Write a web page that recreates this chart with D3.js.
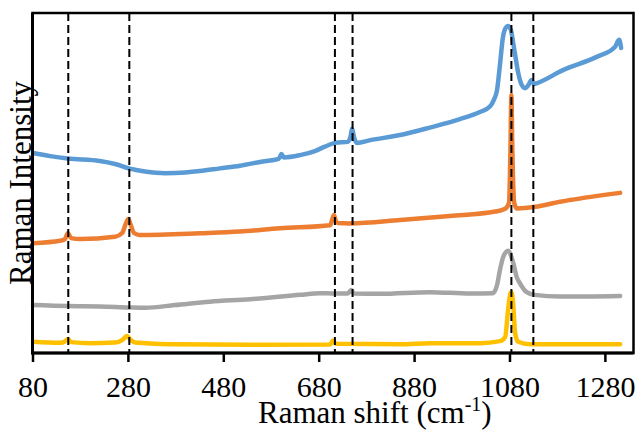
<!DOCTYPE html>
<html><head><meta charset="utf-8">
<script src="https://cdn.jsdelivr.net/npm/d3@7"></script>
<style>html,body{margin:0;padding:0;background:#fff;}svg{display:block;}</style>
</head><body>
<svg id="chart" width="643" height="440"></svg>
<script>
const xTicks = [80, 280, 480, 680, 880, 1080, 1280];
const refLines = [155, 283, 714, 751, 1084, 1130];
const seriesNames = ["S1", "S2", "S3", "S4"];
const seriesColors = ["#5B9BD5", "#ED7D31", "#A5A5A5", "#FFC000"];

const blue = [[81,58.8],[117,57.9],[154,57.2],[221,56.5],[253,55.6],[282,54.3],[316,53.4],[358,52.9],[400,53.1],[431,53.5],[473,54.3],[515,55.1],[557,56.2],[597,57.2],[602,58.5],[607,57.5],[641,58.2],[672,59.4],[693,60.7],[714,61.8],[741,62.1],[747,63.8],[750,66.0],[754,63.5],[760,61.8],[788,62.6],[851,64.1],[913,66.3],[976,68.8],[1018,70.9],[1039,72.5],[1047,74.4],[1054,77.4],[1060,84.7],[1066,92.6],[1072,95.6],[1077,96.2],[1083,95.0],[1088,91.0],[1092,87.6],[1098,82.6],[1104,79.4],[1113,77.9],[1121,79.1],[1126,80.3],[1131,79.1],[1138,79.4],[1192,83.2],[1263,87.1],[1301,90.0],[1310,92.1],[1314,89.7]];
const orange = [[81,32.3],[138,33.0],[148,33.5],[154,35.2],[161,33.8],[180,33.5],[253,34.2],[268,35.3],[276,38.2],[281,39.4],[286,37.6],[293,35.3],[305,34.7],[431,35.2],[515,35.7],[599,36.7],[704,37.6],[708,39.1],[712,40.6],[716,38.8],[720,38.2],[746,38.1],[851,39.1],[955,40.3],[1050,41.6],[1071,42.4],[1079,44.1],[1082,59.7],[1084,75.9],[1086,59.7],[1090,44.1],[1096,42.5],[1134,43.0],[1186,44.5],[1207,45.0],[1312,47.1]];
const gray = [[81,14.1],[154,13.8],[221,13.7],[282,13.4],[316,13.3],[379,14.1],[452,15.1],[536,15.8],[641,17.1],[683,17.6],[714,17.5],[741,17.5],[748,18.5],[754,17.5],[809,17.4],[913,17.9],[997,17.5],[1045,17.6],[1054,20.0],[1060,24.4],[1067,28.3],[1077,30.1],[1088,26.4],[1095,22.4],[1102,20.5],[1116,17.9],[1133,17.1],[1186,16.6],[1312,16.8]];
const yellow = [[81,3.3],[138,3.0],[148,3.4],[154,4.1],[161,3.2],[200,2.9],[253,3.1],[268,3.8],[278,5.0],[286,3.8],[295,3.1],[368,2.6],[536,2.4],[704,2.5],[710,3.7],[716,2.7],[851,2.6],[913,2.9],[1018,2.9],[1060,3.5],[1071,4.7],[1077,12.6],[1082,17.6],[1084,17.9],[1087,15.6],[1092,5.8],[1098,3.3],[1123,2.6],[1312,2.6]];
const allSeries = [blue, orange, gray, yellow];

const svg = d3.select("#chart");
const L = 32.5, R = 633.5, T = 13, B = 353;
const x = d3.scaleLinear().domain([80, 1340]).range([L, R]);
const y = d3.scaleLinear().domain([0, 100]).range([B, T]);
const font = "'Liberation Serif', 'Times New Roman', serif";

const line = d3.line().x(d => x(d[0])).y(d => y(d[1])).curve(d3.curveMonotoneX);

allSeries.forEach((s, i) => {
  svg.append("path").datum(s).attr("d", line)
    .attr("fill", "none").attr("stroke", seriesColors[i])
    .attr("stroke-width", 4.5).attr("stroke-linejoin", "round").attr("stroke-linecap", "round");
});

svg.selectAll(".ref").data(refLines).enter().append("line")
  .attr("x1", d => x(d)).attr("x2", d => x(d))
  .attr("y1", T).attr("y2", B)
  .attr("stroke", "#000").attr("stroke-width", 2).attr("stroke-dasharray", "8,4");

// frame
svg.append("rect").attr("x", L).attr("y", T).attr("width", R - L).attr("height", B - T)
  .attr("fill", "none").attr("stroke", "#000").attr("stroke-width", 2.5);
svg.append("line").attr("x1", L).attr("x2", L).attr("y1", T).attr("y2", B + 1.5)
  .attr("stroke", "#000").attr("stroke-width", 3);
svg.append("line").attr("x1", L).attr("x2", R).attr("y1", B).attr("y2", B)
  .attr("stroke", "#000").attr("stroke-width", 3);

// x axis
const xAxis = d3.axisBottom(x).tickValues(xTicks).tickFormat(d3.format("d"))
  .tickSize(9).tickPadding(14).tickSizeOuter(0);
const gx = svg.append("g").attr("transform", `translate(0,${B})`).call(xAxis);
gx.select(".domain").remove();
gx.selectAll(".tick line").attr("stroke", "#000").attr("stroke-width", 2.5);
gx.selectAll(".tick text").attr("font-family", font).attr("font-size", 30).attr("fill", "#000");

// x title
const xt = svg.append("text").attr("x", 258).attr("y", 423)
  .attr("font-family", font).attr("font-size", 31).attr("fill", "#000");
xt.append("tspan").text("Raman shift (cm");
xt.append("tspan").text("-1").attr("font-size", 20).attr("dy", -12);
xt.append("tspan").text(")").attr("dy", 12);

// y title
svg.append("text").attr("transform", "translate(31,183) rotate(-90)")
  .attr("text-anchor", "middle").attr("font-family", font).attr("font-size", 31)
  .attr("fill", "#000").text("Raman Intensity");
</script>
</body></html>
